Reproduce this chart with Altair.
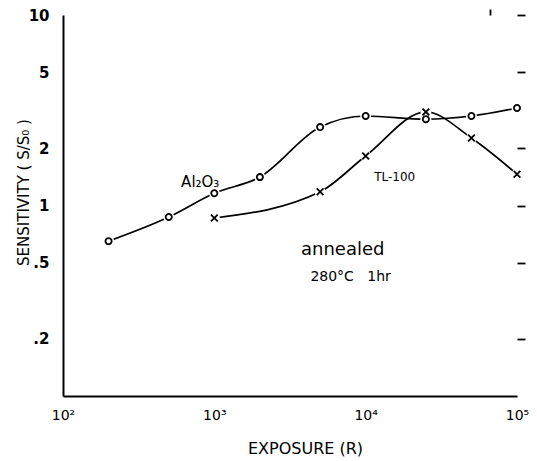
import altair as alt
import pandas as pd

# Data
al_x = [200, 500, 1000, 2000, 5000, 10000, 25000, 50000, 100000]
al_y = [0.65, 0.87, 1.16, 1.41, 2.58, 2.95, 2.84, 2.95, 3.25]
tl_x = [1000, 5000, 10000, 25000, 50000, 100000]
tl_y = [0.86, 1.18, 1.82, 3.10, 2.26, 1.46]

x_major_ticks = [1000, 10000, 100000]
x_minor_ticks = [200, 500, 2000, 5000, 20000, 50000]
x_label_values = [100, 1000, 10000, 100000]
y_tick_values = [0.2, 0.5, 1, 2, 5, 10]

X_MIN, X_MAX = 100, 100000
Y_MIN, Y_MAX = 0.1, 10
W, H = 454, 381
FONT = "DejaVu Sans"

al = pd.DataFrame({"x": al_x, "y": al_y})
tl = pd.DataFrame({"x": tl_x, "y": tl_y})

xs = alt.Scale(type="log", domain=[X_MIN, X_MAX])
ys = alt.Scale(type="log", domain=[Y_MIN, Y_MAX])

# main axes: domain lines, labels, titles (no ticks)
X_main = alt.X(
    "x:Q", scale=xs,
    axis=alt.Axis(
        values=x_label_values,
        labelExpr="datum.value == 100 ? '10²' : datum.value == 1000 ? '10³' : datum.value == 10000 ? '10⁴' : '10⁵'",
        ticks=False, grid=False,
        domainColor="black", domainWidth=2,
        labelFont=FONT, labelFontSize=14, labelColor="black", labelPadding=12,
        labelFlush=False,
        title="EXPOSURE (R)", titleFont=FONT, titleFontSize=16, titleFontWeight="normal",
        titleColor="black", titleX=242, titleY=52, titleAlign="center", titleBaseline="middle",
    ),
)
Y_main = alt.Y(
    "y:Q", scale=ys,
    axis=alt.Axis(
        values=y_tick_values,
        labelExpr="datum.value == 0.2 ? '.2' : datum.value == 0.5 ? '.5' : datum.value == 1 ? '1' : datum.value == 2 ? '2' : datum.value == 5 ? '5' : '10'",
        ticks=False, grid=False,
        domainColor="black", domainWidth=2,
        labelFont=FONT, labelFontSize=15, labelFontWeight="bold", labelColor="black",
        labelPadding=14, labelFlush=False,
        title="SENSITIVITY ( S/S₀ )", titleFont=FONT, titleFontSize=15, titleFontWeight="normal",
        titleColor="black", titleX=-40, titleY=177, titleAngle=-90,
        titleAlign="center", titleBaseline="middle",
    ),
)

# tick-only axes placed on the axis lines so their ticks point into the plot
X_ticks = alt.X(
    "x:Q", scale=xs,
    axis=alt.Axis(
        orient="top", position=H,
        values=x_major_ticks + x_minor_ticks,
        ticks=True, labels=False, domain=False, grid=False, title=None,
        tickColor="black", tickWidth=1.8,
        tickSize={"condition": {"test": "datum.value == 1000 || datum.value == 10000 || datum.value == 100000",
                                "value": 10}, "value": 6},
    ),
)
Y_ticks = alt.Y(
    "y:Q", scale=ys,
    axis=alt.Axis(
        orient="right", position=0,
        values=y_tick_values,
        ticks=True, labels=False, domain=False, grid=False, title=None,
        tickColor="black", tickWidth=1.8, tickSize=8,
    ),
)

X_plain = alt.X("x:Q", scale=xs, axis=None)
Y_plain = alt.Y("y:Q", scale=ys, axis=None)

def curve(df, X, Y):
    return alt.Chart(df).mark_line(
        interpolate="monotone", color="black", strokeWidth=1.7
    ).encode(x=X, y=Y)

def halo(df):
    return alt.Chart(df).mark_point(
        filled=True, color="white", opacity=1, size=120, shape="circle"
    ).encode(x=X_plain, y=Y_plain)

circles = alt.Chart(al).mark_point(
    shape="circle", filled=False, color="black", strokeWidth=1.8, size=38, opacity=1
).encode(x=X_plain, y=Y_plain)
crosses = alt.Chart(tl).mark_point(
    shape="M-1,-1L1,1M1,-1L-1,1", filled=False, color="black", strokeWidth=1.8, size=45, opacity=1
).encode(x=X_plain, y=Y_plain)

# invisible layer that carries the inward tick axes
tick_carrier = alt.Chart(al).mark_point(opacity=0).encode(x=X_ticks, y=Y_ticks)

def note(text, x, y, size):
    d = pd.DataFrame({"x": [x], "y": [y], "t": [text]})
    return alt.Chart(d).mark_text(
        font=FONT, fontSize=size, color="black", align="center", baseline="middle"
    ).encode(x=X_plain, y=Y_plain, text="t:N")

chart = alt.layer(
    curve(al, X_main, Y_main), curve(tl, X_plain, Y_plain),
    tick_carrier,
    halo(al), halo(tl),
    circles, crosses,
    note("Al₂O₃", 807, 1.33, 15),
    note("TL-100", 15560, 1.41, 12),
    note("annealed", 7050, 0.584, 18),
    note("280°C\u00a0\u00a0\u00a01hr", 7950, 0.42, 14),
).resolve_axis(
    x="independent", y="independent"
).properties(
    width=W, height=H,
    autosize=alt.AutoSizeParams(type="none"),
    padding={"left": 63, "top": 15, "right": 20, "bottom": 65},
    background="white",
).configure_view(stroke=None)

chart.save("out.html", embed_options={"renderer": "svg", "actions": False})
